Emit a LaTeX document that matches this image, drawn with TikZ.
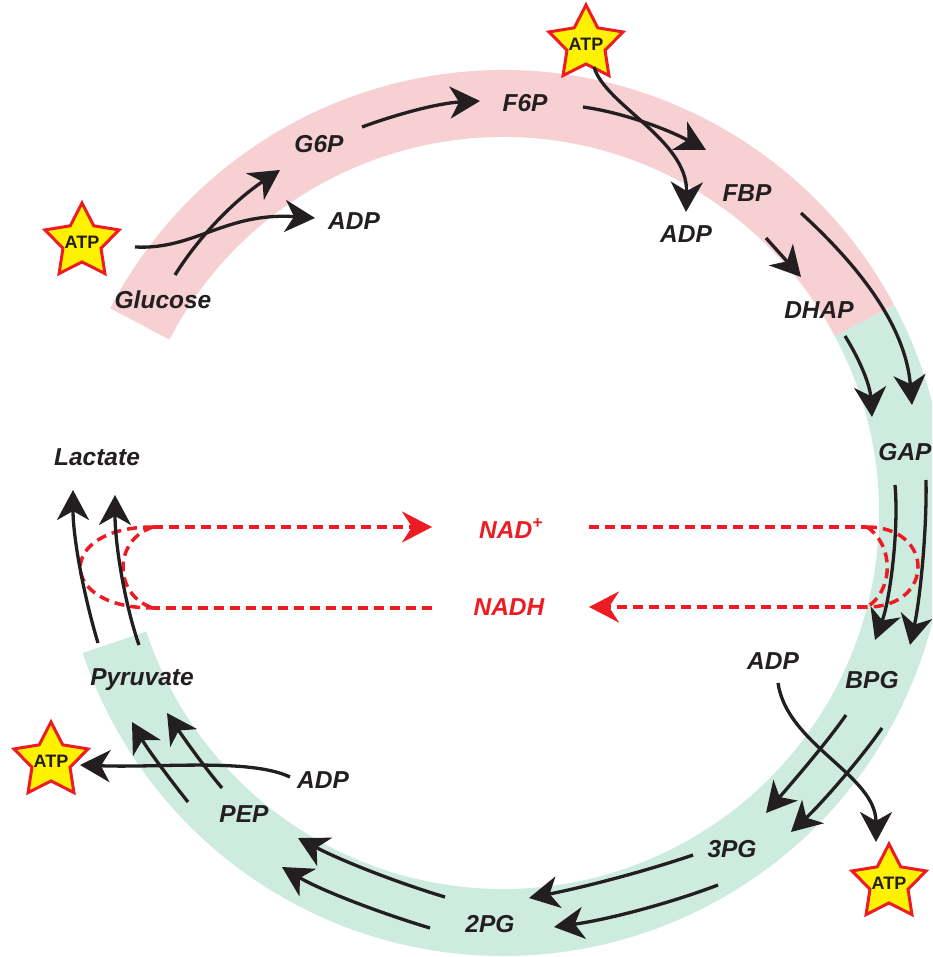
\documentclass[tikz,border=0pt]{standalone}
\usepackage{fontspec}
\setmainfont{Liberation Sans}
\usetikzlibrary{arrows.meta,shapes.geometric}
\definecolor{bandpink}{RGB}{247,208,211}
\definecolor{bandgreen}{RGB}{205,236,223}
\definecolor{inkdark}{RGB}{35,31,32}
\definecolor{nadred}{RGB}{237,28,36}
\definecolor{staryellow}{RGB}{255,242,0}
\begin{document}
\begin{tikzpicture}[x=1pt,y=-1pt,
  metab/.style={font=\fontsize{24.5}{28}\selectfont\bfseries\itshape, text=inkdark, inner sep=0pt, anchor=base},
  cofac/.style={metab, text=nadred},
  flow/.style={draw=inkdark, line width=3.3pt, -{Stealth[length=30pt,width=32pt,inset=9pt]}},
  redox/.style={draw=nadred, line width=3.5pt, dash pattern=on 10pt off 6pt},
  redoxtip/.style={redox, -{Stealth[length=30pt,width=31pt,inset=10pt]}},
  atpstar/.style={star, star points=5, star point ratio=1.95, minimum size=78pt, inner sep=0pt,
    fill=staryellow, draw=nadred, line width=3pt,
    label={[font=\fontsize{18}{20}\selectfont\bfseries, text=inkdark]center:ATP}},
]
\clip (0,0) rectangle (932,957);

% pathway bands: preparatory phase (pink) and payoff phase (green)
\coordinate (hub) at (503,513);
\draw[bandpink, line width=67pt] (hub) ++(-152.5:409.5) arc[start angle=-152.5, end angle=-28, radius=409.5];
\draw[bandgreen, line width=67pt] (hub) ++(-28:409.5) arc[start angle=-28, end angle=161.6, radius=409.5];

% metabolites
\node[metab] (glc) at (163,308) {Glucose};
\node[metab] (g6p) at (319,153) {G6P};
\node[metab] (adp1) at (354,230) {ADP};
\node[metab] (f6p) at (525,112) {F6P};
\node[metab] (fbp) at (747,202) {FBP};
\node[metab] (adp2) at (686,243) {ADP};
\node[metab] (dhap) at (819,318) {DHAP};
\node[metab] (gap) at (905,460) {GAP};
\node[metab] (lac) at (97,465) {Lactate};
\node[cofac] (nadp) at (511,538) {NAD\textsuperscript{+}};
\node[cofac] (nadh) at (509,615) {NADH};
\node[metab] (adp3) at (773,669) {ADP};
\node[metab] (bpg) at (872,688) {BPG};
\node[metab] (pg3) at (732,857) {3PG};
\node[metab] (pg2) at (490,932) {2PG};
\node[metab] (pyr) at (142,685) {Pyruvate};
\node[metab] (pep) at (244,822) {PEP};
\node[metab] (adp4) at (323,788) {ADP};

% ATP stars
\node[atpstar] (atp1) at (82,242) {};
\node[atpstar] (atp2) at (586,44) {};
\node[atpstar] (atp3) at (51,761) {};
\node[atpstar] (atp4) at (889,883) {};

% NAD+/NADH shuttle (dashed red)
\coordinate (nadpR) at (589,527);
\coordinate (loopRt) at (867,527);
\coordinate (loopRb) at (867,607);
\coordinate (nadhTip) at (589,607);
\coordinate (loopLt) at (153,527);
\coordinate (loopLb) at (153,608);
\coordinate (nadpTip) at (432,527);
\coordinate (nadhL) at (432,608);
\draw[redox] (nadpR) -- (loopRt);
\draw[redox] (loopRt) .. controls (935,527) and (935,607) .. (loopRb);
\draw[redox] (loopRt) .. controls (894,545) and (894,590) .. (loopRb);
\draw[redoxtip] (loopRb) -- (nadhTip);
\draw[redoxtip] (loopLt) -- (nadpTip);
\draw[redox] (loopLt) .. controls (56,527) and (56,608) .. (loopLb);
\draw[redox] (loopLt) .. controls (113,540) and (113,595) .. (loopLb);
\draw[redox] (nadhL) -- (loopLb);

% reaction arrows
\coordinate (glcOut) at (175,275);   \coordinate (g6pIn) at (280,170);
\coordinate (atp1Out) at (135,247);  \coordinate (adp1In) at (315,218);
\coordinate (g6pOut) at (362,127);   \coordinate (f6pIn) at (480,101);
\coordinate (f6pOut) at (583,107);   \coordinate (fbpIn) at (706,150);
\coordinate (atp2Out) at (594,67);   \coordinate (adp2In) at (686,212);
\coordinate (fbpOutA) at (766,238);  \coordinate (dhapIn) at (801,277);
\coordinate (fbpOutB) at (801,213);  \coordinate (gapInB) at (912,405);
\coordinate (dhapOut) at (845,336);  \coordinate (gapInA) at (872,417);
\coordinate (gapOutA) at (895,485);  \coordinate (bpgInA) at (875,640);
\coordinate (gapOutB) at (926,480);  \coordinate (bpgInB) at (910,645);
\coordinate (bpgOutA) at (846,715);  \coordinate (pg3InA) at (766,813);
\coordinate (bpgOutB) at (882,728);  \coordinate (pg3InB) at (791,832);
\coordinate (adp3Out) at (778,683);  \coordinate (atp4In) at (876,842);
\coordinate (pg3OutA) at (693,855);  \coordinate (pg2InA) at (529,898);
\coordinate (pg3OutB) at (718,885);  \coordinate (pg2InB) at (554,927);
\coordinate (pg2OutA) at (445,897);  \coordinate (pepInA) at (298,838);
\coordinate (pg2OutB) at (430,928);  \coordinate (pepInB) at (282,867);
\coordinate (pepOutA) at (188,802);  \coordinate (pyrInA) at (132,722);
\coordinate (pepOutB) at (222,788);  \coordinate (pyrInB) at (167,713);
\coordinate (adp4Out) at (290,777);  \coordinate (atp3In) at (80,765);
\coordinate (pyrOutA) at (98,643);   \coordinate (lacInA) at (73,490);
\coordinate (pyrOutB) at (139,645);  \coordinate (lacInB) at (115,495);

\draw[flow] (glcOut) .. controls (200,235) and (235,200) .. (g6pIn);
\draw[flow] (atp1Out) .. controls (195,250) and (225,212) .. (adp1In);
\draw[flow] (g6pOut) .. controls (400,113) and (440,103) .. (f6pIn);
\draw[flow] (f6pOut) .. controls (620,112) and (665,128) .. (fbpIn);
\draw[flow] (atp2Out) .. controls (605,105) and (688,140) .. (adp2In);
\draw[flow] (fbpOutA) -- (dhapIn);
\draw[flow] (fbpOutB) .. controls (850,258) and (905,320) .. (gapInB);
\draw[flow] (dhapOut) .. controls (860,360) and (870,385) .. (gapInA);
\draw[flow] (gapOutA) .. controls (899,530) and (890,600) .. (bpgInA);
\draw[flow] (gapOutB) .. controls (927,530) and (920,600) .. (bpgInB);
\draw[flow] (bpgOutA) .. controls (825,745) and (790,785) .. (pg3InA);
\draw[flow] (bpgOutB) .. controls (860,760) and (820,805) .. (pg3InB);
\draw[flow] (adp3Out) .. controls (787,745) and (876,775) .. (atp4In);
\draw[flow] (pg3OutA) .. controls (640,873) and (580,888) .. (pg2InA);
\draw[flow] (pg3OutB) .. controls (665,905) and (605,920) .. (pg2InB);
\draw[flow] (pg2OutA) .. controls (395,882) and (340,860) .. (pepInA);
\draw[flow] (pg2OutB) .. controls (380,913) and (320,890) .. (pepInB);
\draw[flow] (pepOutA) .. controls (172,782) and (148,750) .. (pyrInA);
\draw[flow] (pepOutB) .. controls (205,768) and (183,737) .. (pyrInB);
\draw[flow] (adp4Out) .. controls (250,758) and (160,768) .. (atp3In);
\draw[flow] (pyrOutA) .. controls (85,600) and (73,540) .. (lacInA);
\draw[flow] (pyrOutB) .. controls (125,605) and (115,545) .. (lacInB);
\end{tikzpicture}
\end{document}
